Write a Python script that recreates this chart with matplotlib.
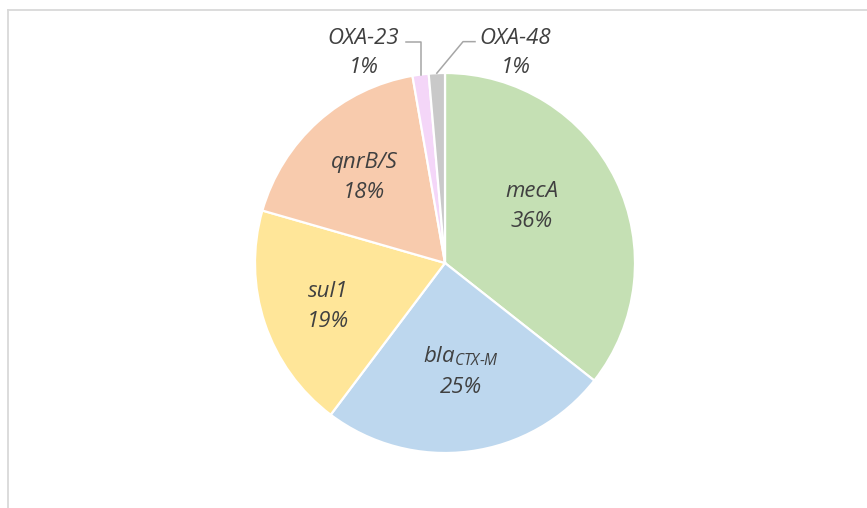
import matplotlib
matplotlib.use('Agg')
import matplotlib.pyplot as plt
from matplotlib.lines import Line2D
import numpy as np

# gene counts (clockwise from 12 o'clock)
genes = ["mecA", r"$bla_{CTX\text{-}M}$", "sul1", "qnrB/S", "OXA-23", "OXA-48"]
counts = [26, 18, 14, 13, 1, 1]
colors = ["#c5e0b4", "#bdd7ee", "#ffe699", "#f8cbad", "#f4d6f8", "#c9c9c9"]

plt.rcParams['font.family'] = 'Open Sans'
plt.rcParams['mathtext.fontset'] = 'custom'
plt.rcParams['mathtext.it'] = 'Open Sans:italic'
plt.rcParams['mathtext.rm'] = 'Open Sans:italic'
TXT = '#404040'
FS = 16

fig = plt.figure(figsize=(8.67, 5.08), dpi=100)
# chart frame (top and left edges visible)
fig.add_artist(Line2D([8 / 867, 8 / 867], [0, 1 - 9.5 / 508], color='#d9d9d9', lw=1.3))
fig.add_artist(Line2D([8 / 867, 1], [1 - 9.5 / 508, 1 - 9.5 / 508], color='#d9d9d9', lw=1.3))

R = 190
cx, cy = 445, 263
ax = fig.add_axes([(cx - R) / 867, (508 - cy - R) / 508, 2 * R / 867, 2 * R / 508])
wedges, _ = ax.pie(counts, colors=colors, startangle=90, counterclock=False,
                   wedgeprops=dict(edgecolor='white', linewidth=1.6))
ax.set_xlim(-1, 1)
ax.set_ylim(-1, 1)
ax.set_aspect('equal')
ax.axis('off')

total = sum(counts)
pcts = [f"{round(100 * c / total)}%" for c in counts]

# label anchors (data units, pie radius = 1)
label_xy = [(0.458, 0.305), (0.084, -0.568), (-0.616, -0.221), (-0.426, 0.458),
            (-0.43, 1.0), (0.37, 1.0)]

for i in range(4):
    x, y = label_xy[i]
    ax.annotate(genes[i], (x, y), xytext=(0, 5.8), textcoords='offset points',
                ha='center', va='baseline', fontsize=FS, style='italic', color=TXT)
    ax.annotate(pcts[i], (x, y), xytext=(0, -15.8), textcoords='offset points',
                ha='center', va='baseline', fontsize=FS, style='italic', color=TXT)

# outside labels for the two small slices
def mid_pt(w):
    a = np.deg2rad((w.theta1 + w.theta2) / 2)
    return np.cos(a), np.sin(a)

ex, ey = mid_pt(wedges[4])
ax.plot([ex, ex, -0.205], [ey, 1.165, 1.165], color='#a6a6a6', lw=1.1, clip_on=False)
ex, ey = mid_pt(wedges[5])
ax.plot([ex, 0.095, 0.158], [ey, 1.165, 1.165], color='#a6a6a6', lw=1.1, clip_on=False)

for i in (4, 5):
    x, y = label_xy[i]
    ax.text(x, y + 0.155, genes[i], ha='center', va='baseline', fontsize=FS, style='italic', color=TXT)
    ax.text(x, y, pcts[i], ha='center', va='baseline', fontsize=FS, style='italic', color=TXT)

fig.savefig('out.png', dpi=100, facecolor='white')
